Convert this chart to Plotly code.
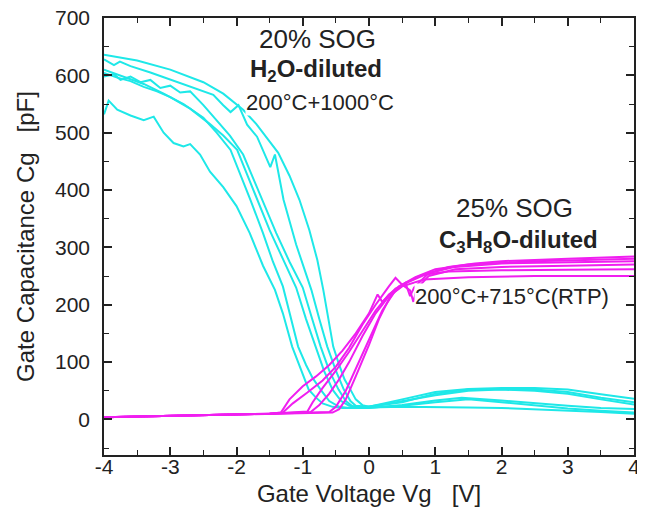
import plotly.graph_objects as go

# ---- Cyan curves: 20% SOG, H2O-diluted (200°C+1000°C) ----
cyan_x_1 = [-4.0, -3.93, -3.8, -3.6, -3.4, -3.25, -3.1, -2.95, -2.8, -2.7, -2.55, -2.4, -2.2, -2.0, -1.8, -1.6, -1.42, -1.3, -1.16, -1.0, -0.91, -0.8, -0.7, -0.55, -0.4, -0.2, 0.0, 0.5, 1.0, 1.5, 2.0, 2.5, 3.0, 3.5, 4.0]
cyan_y_1 = [532, 556, 540, 530, 522, 528, 500, 482, 476, 480, 462, 432, 405, 372, 325, 268, 226, 185, 127, 80, 52, 38, 28, 22, 20, 20, 21, 22, 22, 21, 20, 18, 16, 13, 10]

cyan_x_2 = [-4.0, -3.7, -3.4, -3.1, -2.8, -2.5, -2.3, -2.09, -1.95, -1.79, -1.6, -1.45, -1.3, -1.18, -1.07, -0.95, -0.85, -0.73, -0.6, -0.45, -0.3, 0.0, 0.5, 1.0, 1.4, 2.0, 2.5, 3.0, 3.5, 4.0]
cyan_y_2 = [610, 598, 585, 568, 550, 526, 500, 470, 430, 383, 325, 275, 232, 175, 127, 95, 72, 52, 32, 22, 20, 20, 25, 33, 38, 33, 28, 24, 20, 18]

cyan_x_3 = [-4.0, -3.8, -3.6, -3.4, -3.2, -3.0, -2.7, -2.4, -2.2, -1.99, -1.85, -1.69, -1.5, -1.3, -1.1, -0.95, -0.81, -0.68, -0.55, -0.42, -0.3, -0.1, 0.3, 1.0, 1.5, 2.0, 2.5, 3.0, 3.5, 4.0]
cyan_y_3 = [604, 596, 590, 580, 572, 562, 542, 515, 495, 470, 430, 383, 330, 280, 230, 175, 127, 85, 52, 32, 24, 21, 28, 42, 50, 52, 50, 45, 35, 26]

cyan_x_4 = [-4.0, -3.85, -3.75, -3.6, -3.45, -3.3, -3.15, -3.0, -2.85, -2.7, -2.5, -2.3, -2.1, -1.9, -1.75, -1.61, -1.4, -1.2, -1.0, -0.87, -0.73, -0.6, -0.46, -0.35, -0.25, 0.0, 0.5, 1.0, 1.5, 2.0, 2.5, 3.0, 3.5, 4.0]
cyan_y_4 = [598, 602, 592, 598, 588, 592, 578, 582, 570, 572, 548, 522, 495, 462, 420, 383, 325, 275, 230, 180, 127, 85, 52, 32, 23, 21, 24, 30, 35, 30, 24, 19, 15, 12]

cyan_x_5 = [-4.0, -3.85, -3.76, -3.6, -3.3, -3.0, -2.7, -2.5, -2.35, -2.2, -2.09, -1.97, -1.84, -1.69, -1.6, -1.49, -1.42, -1.29, -1.1, -0.87, -0.75, -0.63, -0.5, -0.38, -0.28, -0.2, 0.0, 0.5, 1.0, 1.5, 2.0, 2.5, 3.0, 3.5, 4.0]
cyan_y_5 = [628, 618, 624, 616, 605, 593, 580, 572, 566, 548, 536, 548, 514, 493, 470, 440, 462, 383, 305, 226, 175, 127, 85, 52, 32, 24, 22, 30, 45, 52, 53, 52, 48, 38, 30]

cyan_x_6 = [-4.0, -3.5, -3.0, -2.5, -2.2, -1.9, -1.7, -1.5, -1.37, -1.2, -1.05, -0.9, -0.78, -0.69, -0.6, -0.54, -0.45, -0.37, -0.28, -0.2, -0.1, 0.0, 0.5, 1.0, 1.5, 2.0, 2.5, 3.0, 3.5, 4.0]
cyan_y_6 = [636, 626, 610, 588, 568, 540, 515, 485, 465, 425, 383, 330, 278, 226, 170, 127, 95, 70, 52, 35, 25, 22, 35, 48, 53, 55, 55, 52, 44, 36]

# ---- Magenta curves: 25% SOG, C3H8O-diluted (200°C+715°C RTP) ----
mag_x_1 = [-4.0, -3.0, -2.0, -1.5, -1.33, -1.2, -1.0, -0.93, -0.8, -0.6, -0.4, -0.2, 0.0, 0.13, 0.2, 0.4, 0.6, 0.9, 1.2, 1.6, 2.0, 3.0, 4.0]
mag_y_1 = [4, 6, 8, 10, 12, 35, 58, 64, 75, 95, 120, 150, 185, 218, 205, 228, 240, 255, 266, 272, 276, 280, 284]

mag_x_2 = [-4.0, -3.0, -2.0, -1.5, -1.3, -1.15, -0.93, -0.7, -0.5, -0.3, -0.1, 0.1, 0.3, 0.4, 0.5, 0.55, 0.7, 1.0, 1.5, 2.5, 4.0]
mag_y_2 = [4, 6, 8, 10, 12, 28, 47, 68, 92, 125, 165, 200, 232, 247, 235, 238, 248, 262, 270, 276, 280]

mag_x_3 = [-4.0, -3.0, -2.0, -1.5, -0.93, -0.85, -0.7, -0.5, -0.3, -0.1, 0.1, 0.3, 0.5, 0.62, 0.67, 0.72, 0.9, 1.3, 2.0, 3.0, 4.0]
mag_y_3 = [4, 6, 8, 10, 14, 30, 55, 85, 118, 155, 190, 218, 235, 225, 205, 228, 250, 262, 266, 268, 270]

mag_x_4 = [-4.0, -3.0, -2.0, -1.5, -0.88, -0.75, -0.6, -0.45, -0.3, -0.1, 0.1, 0.3, 0.5, 0.65, 0.83, 1.5, 2.5, 4.0]
mag_y_4 = [4, 6, 8, 10, 13, 25, 45, 70, 100, 145, 185, 215, 232, 238, 244, 248, 250, 250]

mag_x_5 = [-4.0, -3.0, -2.0, -1.5, -0.55, -0.45, -0.35, -0.2, 0.0, 0.15, 0.3, 0.45, 0.6, 0.8, 1.2, 2.0, 3.0, 4.0]
mag_y_5 = [4, 6, 8, 10, 12, 18, 35, 75, 130, 175, 210, 232, 240, 252, 258, 260, 261, 262]

mag_x_6 = [-4.0, -3.0, -2.0, -1.5, -0.6, -0.5, -0.35, -0.15, 0.05, 0.2, 0.38, 0.55, 0.62, 0.68, 0.9, 1.3, 2.0, 3.0, 4.0]
mag_y_6 = [4, 6, 8, 10, 13, 22, 50, 100, 150, 190, 222, 238, 215, 230, 255, 266, 272, 274, 276]

x_ticks = [-4, -3, -2, -1, 0, 1, 2, 3, 4]
y_ticks = [0, 100, 200, 300, 400, 500, 600, 700]

CYAN = "#1ee8e8"
MAGENTA = "#f01ef0"
INK = "#222222"
FONT = "Liberation Sans, Arial, sans-serif"

fig = go.Figure()
for xs, ys in [(cyan_x_1, cyan_y_1), (cyan_x_2, cyan_y_2), (cyan_x_3, cyan_y_3),
               (cyan_x_4, cyan_y_4), (cyan_x_5, cyan_y_5), (cyan_x_6, cyan_y_6)]:
    fig.add_trace(go.Scatter(x=xs, y=ys, mode="lines",
                             line=dict(color=CYAN, width=2), showlegend=False))
for xs, ys in [(mag_x_1, mag_y_1), (mag_x_2, mag_y_2), (mag_x_3, mag_y_3),
               (mag_x_4, mag_y_4), (mag_x_5, mag_y_5), (mag_x_6, mag_y_6)]:
    fig.add_trace(go.Scatter(x=xs, y=ys, mode="lines",
                             line=dict(color=MAGENTA, width=2), showlegend=False))

annots = [
    dict(x=-0.77, y=664, text="20% SOG", size=26, bg=None),
    dict(x=-0.80, y=608, text="<b>H<sub>2</sub>O-diluted</b>", size=24, bg=None),
    dict(x=-0.74, y=552, text="200°C+1000°C", size=22, bg="white"),
    dict(x=2.20, y=369, text="25% SOG", size=26, bg=None),
    dict(x=2.25, y=310, text="<b>C<sub>3</sub>H<sub>8</sub>O-diluted</b>", size=24, bg=None),
    dict(x=2.16, y=214, text="200°C+715°C(RTP)", size=22, bg="white"),
]
for a in annots:
    fig.add_annotation(x=a["x"], y=a["y"], xref="x", yref="y", text=a["text"],
                       showarrow=False, font=dict(family=FONT, size=a["size"], color=INK),
                       bgcolor=a["bg"] if a["bg"] else "rgba(0,0,0,0)", borderpad=0)

axis_common = dict(showgrid=False, zeroline=False, showline=True, linecolor=INK,
                   linewidth=1.5, mirror="ticks", ticks="inside", ticklen=8,
                   tickwidth=1.5, tickcolor=INK, automargin=False,
                   ticklabeloverflow="allow",
                   tickfont=dict(family=FONT, size=21, color=INK))

fig.update_xaxes(range=[-4, 4], tickvals=x_ticks, ticktext=[str(v) for v in x_ticks],
                 minor=dict(dtick=0.5, ticks="inside", ticklen=5, tickcolor=INK, tickwidth=1.2),
                 ticklabelstandoff=-8,
                 title=dict(text="Gate Voltage Vg&nbsp;&nbsp; [V]",
                            font=dict(family=FONT, size=24, color=INK), standoff=8),
                 **axis_common)
fig.update_yaxes(range=[-62, 700], tickvals=y_ticks, ticktext=[str(v) for v in y_ticks],
                 minor=dict(dtick=50, tick0=0, ticks="inside", ticklen=5, tickcolor=INK, tickwidth=1.2),
                 ticklabelstandoff=8,
                 title=dict(text="Gate Capacitance Cg&nbsp;&nbsp; [pF]",
                            font=dict(family=FONT, size=24, color=INK), standoff=14),
                 **axis_common)

# page body adds an 8 px offset on each side; size the figure so the page fits the window
fig.update_layout(width=629, height=499, margin=dict(l=96, r=3, t=10, b=52, autoexpand=False),
                  plot_bgcolor="white", paper_bgcolor="white", showlegend=False)

fig.write_html("out.html")
